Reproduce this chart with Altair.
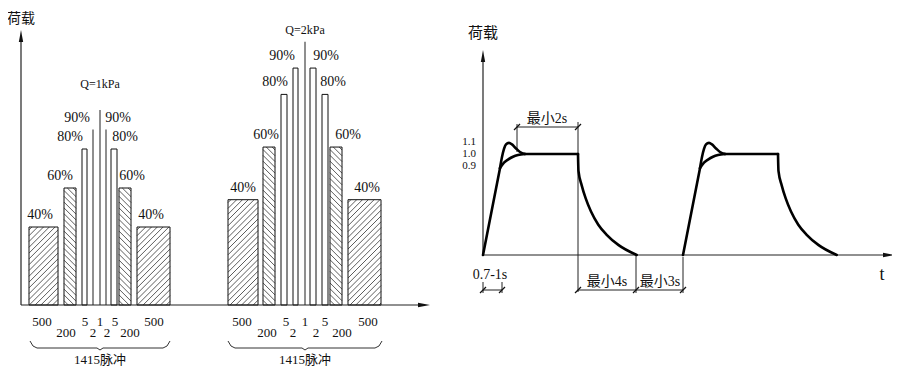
import altair as alt
import pandas as pd
import numpy as np

# ---------------- chart values ----------------
PERCENTS = [40, 60, 80, 90, 100, 90, 80, 60, 40]
PULSES = [500, 200, 5, 2, 1, 2, 5, 200, 500]
PULSE_ROW = [1, 2, 1, 2, 1, 2, 1, 2, 1]
HATCH = ["/", "\\", "", "", "", "", "", "\\", "/"]
Q_LABELS = ["Q=1kPa", "Q=2kPa"]
Q_DRAWN_PEAK = [1.0, 1.35]          # drawn height of 100 % in each group
TOTAL_LABEL = "1415脉冲"
LOAD_TICKS = [1.1, 1.0, 0.9]
LOAD_TICK_TEXT = ["1.1", "1.0", "0.9"]

# pulse shape: schematic time vs load ratio
RAMP_T = [0, 17]
RAMP_L = [0, 0.86]
APPROACH_T = [17, 21, 25, 30, 35, 42]
APPROACH_L = [0.86, 0.915, 0.945, 0.973, 0.99, 1.0]
OVERSHOOT_T = [17, 19, 21, 23, 26, 29, 33, 37, 42]
OVERSHOOT_L = [0.86, 0.97, 1.05, 1.095, 1.11, 1.095, 1.055, 1.02, 1.0]
PLATEAU_T = [42, 95]
PLATEAU_L = [1.0, 1.0]
DECAY_T = [95, 95.5, 98.7, 102.7, 108, 115.3, 123.7, 135.3, 153.7]
DECAY_L = [1.0, 0.83, 0.69, 0.56, 0.43, 0.30, 0.20, 0.10, 0.0]
PULSE_STARTS = [0, 200]

# ---------------- layout (page pixels) ----------------
G_X0 = [[29, 64, 82, 93, 100, 106, 111, 119, 137],
        [228, 263, 281, 293, 305, 310, 322, 330, 348]]
G_X1 = [[58, 76, 87, 93, 100, 106, 117, 131, 170],
        [258, 275, 287, 298, 305, 316, 328, 342, 381]]
G_LABEL_X = [[40, 60, 70, 77, 100, 118, 125, 132, 151],
             [243, 266, 275, 282, 305, 326, 333, 348, 367]]
G_COUNT_X = [[42, 66, 85, 93, 100, 107, 115, 130, 154],
             [242, 267, 286, 293, 305, 316, 325, 342, 368]]
Q_LABEL_RAISE = [26, 12]
BRACE_X = [(30, 100, 170), (228, 305, 382)]
TICK_LABEL_NUDGE = [-2, 0, 2]   # px, spreads the tightly stacked load labels

BASE_L = 305      # left baseline (page y)
UNIT_L = 195      # px for value 1 in left frame
BASE_R = 255
UNIT_R = 101
ORIGIN_R = 483


def vL(py):
    return (BASE_L - py) / UNIT_L


def tR(px):
    return px - ORIGIN_R


def lR(py):
    return (BASE_R - py) / UNIT_R


SERIF = "Liberation Serif, Noto Sans CJK SC"
CJK = "Noto Sans CJK SC, Liberation Serif"
INK = "#111"

XL = alt.Scale(domain=[8, 892], range=[0, 884], nice=False, zero=False)
YL = alt.Scale(domain=[0, 1], range=[297, 102], nice=False, zero=False)
XR = alt.Scale(domain=[0, 100], range=[475, 575], nice=False, zero=False)
YR = alt.Scale(domain=[0, 1], range=[247, 146], nice=False, zero=False)

ARROW_UP = "M0,-1L0.36,1L-0.36,1Z"
ARROW_RIGHT = "M1,0L-1,-0.36L-1,0.36Z"

# ---------------- left frame data ----------------
bars, hatch, pct_lab, cnt_lab = [], [], [], []
for g in range(2):
    for i in range(len(PERCENTS)):
        x0, x1 = G_X0[g][i], G_X1[g][i]
        top = PERCENTS[i] / 100 * Q_DRAWN_PEAK[g]
        kind = "line" if x0 == x1 else "bar"
        bars.append(dict(x0=x0, x1=x1, y0=0.0, top=top, kind=kind))
        if PERCENTS[i] < 100:
            pct_lab.append(dict(x=G_LABEL_X[g][i], y=top + 12 / UNIT_L,
                                text=f"{PERCENTS[i]}%"))
        cnt_lab.append(dict(x=G_COUNT_X[g][i], y=0.0, row=PULSE_ROW[i],
                            text=str(PULSES[i])))
        h = HATCH[i]
        if h:
            yt = BASE_L - top * UNIT_L
            yb = BASE_L
            step = 5.8
            if h == "/":
                c = x0 + yt + step / 2
                while c < x1 + yb:
                    xa, xb = max(x0, c - yb), min(x1, c - yt)
                    if xb - xa > 0.3:
                        hatch.append(dict(xa=xa, ya=vL(c - xa), xb=xb, yb=vL(c - xb)))
                    c += step
            else:
                c = yt - x1 + step / 2
                while c < yb - x0:
                    xa, xb = max(x0, yt - c), min(x1, yb - c)
                    if xb - xa > 0.3:
                        hatch.append(dict(xa=xa, ya=vL(xa + c), xb=xb, yb=vL(xb + c)))
                    c += step
bars = pd.DataFrame(bars)
hatch = pd.DataFrame(hatch)
pct_lab = pd.DataFrame(pct_lab)
cnt_lab = pd.DataFrame(cnt_lab)

q_lab = pd.DataFrame([dict(x=(G_X0[g][4]), y=Q_DRAWN_PEAK[g] + Q_LABEL_RAISE[g] / UNIT_L,
                           text=Q_LABELS[g]) for g in range(2)])
total_lab = pd.DataFrame([dict(x=BRACE_X[g][1], y=0.0, text=TOTAL_LABEL) for g in range(2)])

brace = []
for g, (xa, xc, xb) in enumerate(BRACE_X):
    pts = [(xa, 341), (xa + 3, 346), (xa + 7, 348), (xc - 3, 348), (xc, 350),
           (xc + 3, 348), (xb - 7, 348), (xb - 3, 346), (xb, 341)]
    for k, (px, py) in enumerate(pts):
        brace.append(dict(g=g, k=k, x=px, y=vL(py)))
brace = pd.DataFrame(brace)

axesL = pd.DataFrame([
    dict(xa=21, ya=0.0, xb=21, yb=vL(40)),
    dict(xa=21, ya=0.0, xb=420, yb=0.0),
])
arrowsL = pd.DataFrame([
    dict(x=21, y=vL(36), s="up"),
    dict(x=424, y=0.0, s="right"),
])
titleL = pd.DataFrame([dict(x=21, y=vL(19), text="荷载")])


def xq(f, sc):
    return alt.X(f"{f}:Q", scale=sc, axis=None)


def yq(f, sc):
    return alt.Y(f"{f}:Q", scale=sc, axis=None)


bar_fill = alt.Chart(bars).transform_filter("datum.kind == 'bar'").mark_rect(
    fill="white", strokeWidth=0).encode(
    x=xq("x0", XL), x2="x1:Q", y=yq("y0", YL), y2="top:Q")
hatch_l = alt.Chart(hatch).mark_rule(color="#333", strokeWidth=0.8).encode(
    x=xq("xa", XL), x2="xb:Q", y=yq("ya", YL), y2="yb:Q")
bar_line = alt.Chart(bars).transform_filter("datum.kind == 'bar'").mark_rect(
    filled=False, stroke=INK, strokeWidth=1).encode(
    x=xq("x0", XL), x2="x1:Q", y=yq("y0", YL), y2="top:Q")
thin = alt.Chart(bars).transform_filter("datum.kind == 'line'").mark_rule(
    color="#333", strokeWidth=1.1).encode(
    x=xq("x0", XL), y=yq("y0", YL), y2="top:Q")
axes_l = alt.Chart(axesL).mark_rule(color="#222", strokeWidth=1.2).encode(
    x=xq("xa", XL), x2="xb:Q", y=yq("ya", YL), y2="yb:Q")
arrow_up_l = alt.Chart(arrowsL).transform_filter("datum.s == 'up'").mark_point(
    shape=ARROW_UP, filled=True, size=144, color="#111", opacity=1).encode(
    x=xq("x", XL), y=yq("y", YL))
arrow_rt_l = alt.Chart(arrowsL).transform_filter("datum.s == 'right'").mark_point(
    shape=ARROW_RIGHT, filled=True, size=144, color="#111", opacity=1).encode(
    x=xq("x", XL), y=yq("y", YL))
pct_text = alt.Chart(pct_lab).mark_text(font=SERIF, fontSize=14, color=INK,
                                        baseline="middle").encode(
    x=xq("x", XL), y=yq("y", YL), text="text:N")
q_text = alt.Chart(q_lab).mark_text(font=SERIF, fontSize=12, color=INK,
                                    baseline="middle").encode(
    x=xq("x", XL), y=yq("y", YL), text="text:N")
cnt_row1 = alt.Chart(cnt_lab).transform_filter("datum.row == 1").mark_text(
    font=SERIF, fontSize=13, color=INK, baseline="middle", dy=17).encode(
    x=xq("x", XL), y=yq("y", YL), text="text:N")
cnt_row2 = alt.Chart(cnt_lab).transform_filter("datum.row == 2").mark_text(
    font=SERIF, fontSize=13, color=INK, baseline="middle", dy=28).encode(
    x=xq("x", XL), y=yq("y", YL), text="text:N")
brace_l = alt.Chart(brace).mark_line(color="#333", strokeWidth=1).encode(
    x=xq("x", XL), y=yq("y", YL), detail="g:N", order="k:Q")
total_text = alt.Chart(total_lab).mark_text(font=SERIF, fontSize=13, color=INK,
                                            baseline="middle", dy=55).encode(
    x=xq("x", XL), y=yq("y", YL), text="text:N")
title_l = alt.Chart(titleL).mark_text(font=CJK, fontSize=14, color=INK,
                                      baseline="middle").encode(
    x=xq("x", XL), y=yq("y", YL), text="text:N")

left = alt.layer(bar_fill, hatch_l, bar_line, thin, axes_l, arrow_up_l, arrow_rt_l,
                 pct_text, q_text, cnt_row1, cnt_row2, brace_l, total_text, title_l)

# ---------------- right frame data ----------------
segs = []
for p, t0 in enumerate(PULSE_STARTS):
    for name, T, L, interp in [("ramp", RAMP_T, RAMP_L, "lin"),
                               ("plateau", PLATEAU_T, PLATEAU_L, "lin"),
                               ("approach", APPROACH_T, APPROACH_L, "mono"),
                               ("overshoot", OVERSHOOT_T, OVERSHOOT_L, "mono"),
                               ("decay", DECAY_T, DECAY_L, "mono")]:
        for k, (t, l) in enumerate(zip(T, L)):
            segs.append(dict(seg=f"{p}-{name}", k=k, t=t0 + t, L=l, interp=interp))
curve = pd.DataFrame(segs)

dims_px = [
    (517, 127, 578, 127), (517, 124, 517, 152), (578, 122, 578, 292),
    (483, 290, 502, 290), (578, 290, 683, 290),
    (483, 282, 483, 293), (502, 282, 502, 293),
    (636, 255, 636, 293), (683, 257, 683, 293),
]
dims = pd.DataFrame([dict(xa=tR(a), ya=lR(b), xb=tR(c), yb=lR(d)) for a, b, c, d in dims_px])
tick_pts = [(517, 127), (578, 127), (483, 290), (502, 290), (578, 290), (636, 290), (683, 290)]
ticks = pd.DataFrame([dict(xa=tR(x - 3), ya=lR(y + 3), xb=tR(x + 3), yb=lR(y - 3))
                      for x, y in tick_pts])
axesR = pd.DataFrame([
    dict(xa=0.0, ya=0.0, xb=0.0, yb=lR(60)),
    dict(xa=0.0, ya=0.0, xb=tR(885), yb=0.0),
])
arrowsR = pd.DataFrame([
    dict(x=0.0, y=lR(56), s="up"),
    dict(x=tR(889), y=0.0, s="right"),
])
tick_lab = pd.DataFrame(dict(
    x=[tR(476)] * 3,
    y=[v - n / UNIT_R for v, n in zip(LOAD_TICKS, TICK_LABEL_NUDGE)],
    text=LOAD_TICK_TEXT))
notes = pd.DataFrame([
    dict(x=tR(547), y=lR(119), text="最小2s", size=14),
    dict(x=tR(490), y=lR(275), text="0.7-1s", size=14),
    dict(x=tR(607), y=lR(282), text="最小4s", size=14),
    dict(x=tR(660), y=lR(282), text="最小3s", size=14),
    dict(x=tR(882), y=lR(275), text="t", size=18),
])
titleR = pd.DataFrame([dict(x=tR(483), y=lR(33), text="荷载")])

curve_lin = alt.Chart(curve).transform_filter("datum.interp == 'lin'").mark_line(
    color="black", strokeWidth=2.6, strokeJoin="round", strokeCap="round").encode(
    x=xq("t", XR), y=yq("L", YR), detail="seg:N", order="k:Q")
curve_mono = alt.Chart(curve).transform_filter("datum.interp == 'mono'").mark_line(
    color="black", strokeWidth=2.6, interpolate="monotone", strokeJoin="round",
    strokeCap="round").encode(
    x=xq("t", XR), y=yq("L", YR), detail="seg:N", order="k:Q")
axes_r = alt.Chart(axesR).mark_rule(color="#222", strokeWidth=1.2).encode(
    x=xq("xa", XR), x2="xb:Q", y=yq("ya", YR), y2="yb:Q")
dims_r = alt.Chart(dims).mark_rule(color="#222", strokeWidth=1).encode(
    x=xq("xa", XR), x2="xb:Q", y=yq("ya", YR), y2="yb:Q")
ticks_r = alt.Chart(ticks).mark_rule(color="#111", strokeWidth=1.3).encode(
    x=xq("xa", XR), x2="xb:Q", y=yq("ya", YR), y2="yb:Q")
arrow_up_r = alt.Chart(arrowsR).transform_filter("datum.s == 'up'").mark_point(
    shape=ARROW_UP, filled=True, size=144, color="#111", opacity=1).encode(
    x=xq("x", XR), y=yq("y", YR))
arrow_rt_r = alt.Chart(arrowsR).transform_filter("datum.s == 'right'").mark_point(
    shape=ARROW_RIGHT, filled=True, size=144, color="#111", opacity=1).encode(
    x=xq("x", XR), y=yq("y", YR))
tick_text = alt.Chart(tick_lab).mark_text(font=SERIF, fontSize=11, color=INK,
                                          align="right", baseline="middle").encode(
    x=xq("x", XR), y=yq("y", YR), text="text:N")
note_text = alt.Chart(notes).mark_text(font=SERIF, color=INK, baseline="middle").encode(
    x=xq("x", XR), y=yq("y", YR), text="text:N",
    size=alt.Size("size:Q", scale=None, legend=None))
title_r = alt.Chart(titleR).mark_text(font=CJK, fontSize=15, color=INK,
                                      baseline="middle").encode(
    x=xq("x", XR), y=yq("y", YR), text="text:N")

right = alt.layer(axes_r, dims_r, ticks_r, curve_lin, curve_mono, arrow_up_r,
                  arrow_rt_r, tick_text, note_text, title_r)

chart = alt.layer(left, right).resolve_scale(
    x="independent", y="independent"
).properties(
    width=884, height=364, autosize="none", padding=0
).configure_view(stroke=None)

chart.save("out.html", embed_options={"renderer": "svg", "actions": False})
